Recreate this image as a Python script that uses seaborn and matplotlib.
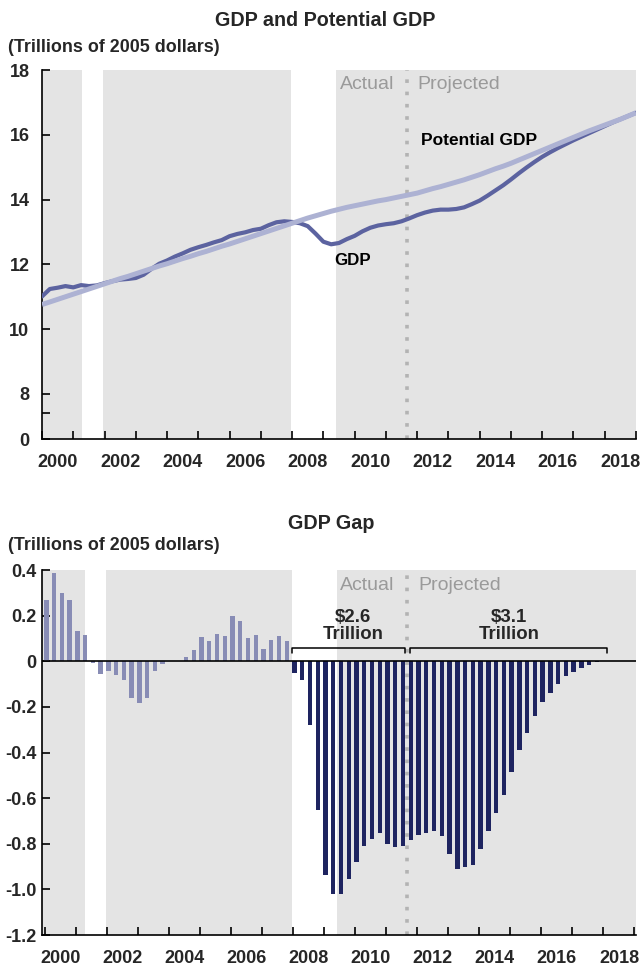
import matplotlib
matplotlib.use("Agg")
import matplotlib.pyplot as plt
import numpy as np
import pandas as pd
import seaborn as sns

# ---------------- data ----------------
years = list(range(2000, 2019))
quarters = [0, 1, 2, 3]

# quarterly real GDP, 2000Q1 .. 2019Q1 (trillions of 2005 dollars)
gdp = [11.01, 11.24, 11.28, 11.33,
       11.29, 11.36, 11.33, 11.35,
       11.42, 11.48, 11.53, 11.55,
       11.58, 11.68, 11.86, 12.02,
       12.12, 12.24, 12.34, 12.45,
       12.53, 12.60, 12.68, 12.75,
       12.87, 12.94, 12.99, 13.06,
       13.10, 13.21, 13.30, 13.33,
       13.31, 13.27, 13.18, 12.95,
       12.70, 12.62, 12.66, 12.78,
       12.88, 13.02, 13.13, 13.20,
       13.24, 13.27, 13.33, 13.42,
       13.52, 13.60, 13.66, 13.69,
       13.69, 13.71, 13.76, 13.86,
       13.97, 14.12, 14.28, 14.44,
       14.62, 14.81, 14.99, 15.16,
       15.32, 15.46, 15.59, 15.71,
       15.83, 15.94, 16.05, 16.16,
       16.27, 16.38, 16.48, 16.58,
       16.68]

potential = [10.76, 10.84, 10.92, 11.00,
             11.08, 11.16, 11.24, 11.32,
             11.40, 11.48, 11.56, 11.63,
             11.71, 11.79, 11.87, 11.95,
             12.02, 12.10, 12.18, 12.25,
             12.33, 12.40, 12.48, 12.56,
             12.63, 12.71, 12.79, 12.87,
             12.95, 13.03, 13.11, 13.19,
             13.27, 13.35, 13.43, 13.50,
             13.57, 13.64, 13.70, 13.76,
             13.81, 13.86, 13.91, 13.96,
             14.00, 14.05, 14.10, 14.15,
             14.20, 14.27, 14.34, 14.40,
             14.47, 14.54, 14.61, 14.69,
             14.77, 14.86, 14.95, 15.03,
             15.12, 15.22, 15.32, 15.42,
             15.52, 15.62, 15.72, 15.82,
             15.92, 16.02, 16.12, 16.21,
             16.30, 16.39, 16.48, 16.58,
             16.68]

# quarterly GDP gap, 2000Q1 .. 2017Q4
gap = [0.268, 0.387, 0.298, 0.268,
       0.133, 0.116, -0.007, -0.058,
       -0.044, -0.062, -0.084, -0.159,
       -0.185, -0.163, -0.043, -0.013,
       0.002, 0.003, 0.018, 0.049,
       0.107, 0.089, 0.120, 0.111,
       0.200, 0.178, 0.102, 0.116,
       0.053, 0.093, 0.111, 0.089,
       -0.050, -0.083, -0.278, -0.653,
       -0.937, -1.020, -1.020, -0.955,
       -0.882, -0.810, -0.779, -0.753,
       -0.801, -0.814, -0.810, -0.785,
       -0.762, -0.753, -0.744, -0.768,
       -0.845, -0.911, -0.902, -0.893,
       -0.823, -0.744, -0.665, -0.586,
       -0.485, -0.389, -0.314, -0.238,
       -0.178, -0.140, -0.100, -0.065,
       -0.046, -0.031, -0.016, -0.003]

recessions = [(2001.29, 2001.95), (2007.95, 2009.42)]
split_year = 2011.66
bracket_spans = [(2007.95, 2011.60), (2011.78, 2018.10)]
bracket_labels = ["$2.6\nTrillion", "$3.1\nTrillion"]
bracket_label_x = [2009.92, 2014.95]

top_yticks = [18, 16, 14, 12, 10, 8]
gap_yticks = [0.4, 0.2, 0, -0.2, -0.4, -0.6, -0.8, -1.0, -1.2]
gap_yticklabels = ["0.4", "0.2", "0", "-0.2", "-0.4", "-0.6", "-0.8", "-1.0", "-1.2"]
label_years = list(range(2000, 2019, 2))

# ---------------- tables ----------------
line_t = [y + q / 4 for y in years for q in quarters] + [2019.0]
lines_df = pd.DataFrame({"t": line_t, "GDP": gdp, "Potential GDP": potential})

bar_t = [y + q / 4 + 0.04 for y in years[:-1] for q in quarters]
gap_df = pd.DataFrame({"t": bar_t, "gap": gap})
gap_df["era"] = np.where(gap_df["t"] < 2008, "early", "late")

# ---------------- style ----------------
sns.set_theme(style="white")
plt.rcParams["font.family"] = ["Liberation Sans", "DejaVu Sans"]

GRAY_BG = "#e4e4e4"
GDP_C = "#5c63a0"
POT_C = "#adb2d3"
LIGHT_BAR = "#8086bc"
DARK_BAR = "#131b6b"
TXT_GRAY = "#9a9a9a"
DOT_C = "#b3b3b3"

W, H = 640, 971
fig = plt.figure(figsize=(W / 100, H / 100), dpi=100)
ax1 = fig.add_axes([42 / W, 1 - 439 / H, 594 / W, 369 / H])
ax2 = fig.add_axes([42 / W, 1 - 935 / H, 594 / W, 365 / H])


def style_axes(ax, xlim):
    ax.set_facecolor(GRAY_BG)
    for a, b in recessions:
        ax.axvspan(a, b, color="white", lw=0, zorder=0)
    ax.axvline(split_year, color=DOT_C, lw=2.6, linestyle=(0, (1, 2.4)), zorder=1)
    for s in ["top", "right"]:
        ax.spines[s].set_visible(False)
    for s in ["left", "bottom"]:
        ax.spines[s].set_color("black")
        ax.spines[s].set_linewidth(1.2)
    ax.set_xlim(*xlim)
    ax.set_xticks(list(range(2000, 2020)))
    ax.set_xticklabels([])
    ax.set_xticks([y + 0.5 for y in label_years], minor=True)
    ax.set_xticklabels([str(y) for y in label_years], minor=True,
                       fontsize=13, fontweight="bold")
    ax.tick_params(axis="x", which="major", direction="in", length=5.5, width=1.2,
                   color="black", bottom=True)
    ax.tick_params(axis="x", which="minor", length=0, pad=10.5, bottom=True)
    ax.set_xlabel("")
    ax.set_ylabel("")
    ax.grid(False)


# ---------------- top: GDP and potential ----------------
style_axes(ax1, (2000.0, 2019.0))
sns.lineplot(data=lines_df, x="t", y="GDP", color=GDP_C, lw=3.0, ax=ax1, zorder=3)
sns.lineplot(data=lines_df, x="t", y="Potential GDP", color=POT_C, lw=3.6, ax=ax1, zorder=4,
             solid_capstyle="butt")
ax1.set_ylim(6.61, 18)
ax1.set_yticks(top_yticks + [7.41, 6.61])
ax1.set_yticklabels([str(v) for v in top_yticks] + ["", "0"], fontsize=13, fontweight="bold")
ax1.tick_params(axis="y", direction="in", length=6, width=1.2, color="black", pad=9, left=True)
ax1.set_xlabel("")
ax1.set_ylabel("")

ax1.annotate("Actual", xy=(split_year, 17.54), xytext=(-9, 0), textcoords="offset points",
             ha="right", va="center", fontsize=14, color=TXT_GRAY)
ax1.annotate("Projected", xy=(split_year, 17.54), xytext=(8, 0), textcoords="offset points",
             ha="left", va="center", fontsize=14, color=TXT_GRAY)
ax1.text(2012.13, 15.82, "Potential GDP", ha="left", va="center", fontsize=12.5,
         fontweight="bold", color="black", zorder=6)
ax1.text(2009.36, 12.13, "GDP", ha="left", va="center", fontsize=12.2,
         fontweight="bold", color="black", zorder=6)

# ---------------- bottom: GDP gap ----------------
style_axes(ax2, (1999.9, 2019.05))
sns.barplot(data=gap_df, x="t", y="gap", hue="era",
            palette={"early": LIGHT_BAR, "late": DARK_BAR},
            native_scale=True, dodge=False, width=0.56, errorbar=None,
            legend=False, ax=ax2, zorder=3, linewidth=0)
ax2.axhline(0, color="black", lw=1.2, zorder=4)
ax2.set_xlim(1999.9, 2019.05)
ax2.set_ylim(-1.2, 0.4)
ax2.set_yticks(gap_yticks)
ax2.set_yticklabels(gap_yticklabels, fontsize=13, fontweight="bold")
ax2.tick_params(axis="y", direction="in", length=6, width=1.2, color="black", pad=4, left=True)
ax2.set_xlabel("")
ax2.set_ylabel("")

ax2.annotate("Actual", xy=(split_year, 0.332), xytext=(-9, 0), textcoords="offset points",
             ha="right", va="center", fontsize=14, color=TXT_GRAY)
ax2.annotate("Projected", xy=(split_year, 0.332), xytext=(8, 0), textcoords="offset points",
             ha="left", va="center", fontsize=14, color=TXT_GRAY)

for (a, b), lab, lx in zip(bracket_spans, bracket_labels, bracket_label_x):
    ax2.plot([a, a, b, b], [0.035, 0.060, 0.060, 0.035], color="black", lw=1.1, zorder=5)
    ax2.text(lx, 0.155, lab, ha="center", va="center", fontsize=13.4, fontweight="bold",
             linespacing=0.95, zorder=6)

# ---------------- titles ----------------
fig.text(325 / W, 1 - 20 / H, "GDP and Potential GDP", ha="center", va="center",
         fontsize=14.2, fontweight="bold")
fig.text(8 / W, 1 - 47.5 / H, "(Trillions of 2005 dollars)", ha="left", va="center",
         fontsize=12.9, fontweight="bold")
fig.text(331 / W, 1 - 523.5 / H, "GDP Gap", ha="center", va="center",
         fontsize=14.2, fontweight="bold")
fig.text(8 / W, 1 - 545.5 / H, "(Trillions of 2005 dollars)", ha="left", va="center",
         fontsize=12.9, fontweight="bold")

fig.savefig("out.png", dpi=100)
